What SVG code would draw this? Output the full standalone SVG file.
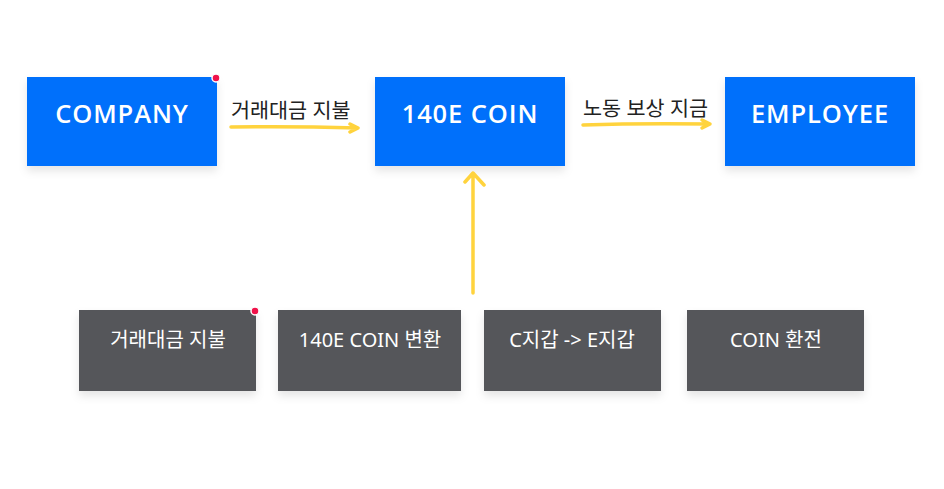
<svg xmlns="http://www.w3.org/2000/svg" width="944" height="489" viewBox="0 0 944 489">
<style>
.blue{fill:#0570fb}
.gray{fill:#54575a}
.big{font-family:"Open Sans","Noto Sans CJK KR",sans-serif;font-size:25.5px;font-weight:600;letter-spacing:0.9px;fill:#fff;text-anchor:middle}
.small{font-family:"Noto Sans","Noto Sans CJK KR",sans-serif;font-size:20px;fill:#fff;text-anchor:middle}
.lbl{font-family:"Noto Sans","Noto Sans CJK KR",sans-serif;font-size:20.7px;fill:#222}
.arr{fill:none;stroke:#ffd33d;stroke-width:3.5;stroke-linecap:round;stroke-linejoin:round}
.dot{fill:#f0124a;stroke:#fff;stroke-width:1.5}
</style>
<defs>
<filter id="sh" x="-10%" y="-10%" width="120%" height="140%">
<feDropShadow dx="0" dy="5" stdDeviation="4" flood-color="#000" flood-opacity="0.1"/>
</filter>
</defs>
<rect width="944" height="489" fill="#fff"/>
<g id="company"><rect class="blue" x="27" y="77" width="190" height="89" filter="url(#sh)"/><text class="big" x="122" y="123">COMPANY</text><circle class="dot" cx="216" cy="78" r="4"/></g>
<g id="coin"><rect class="blue" x="375" y="77" width="190" height="89" filter="url(#sh)"/><text class="big" x="470" y="123">140E COIN</text></g>
<g id="employee"><rect class="blue" x="725" y="77" width="190" height="89" filter="url(#sh)"/><text class="big" x="820" y="123">EMPLOYEE</text></g>
<g id="g1"><rect class="gray" x="79" y="310" width="177" height="81" filter="url(#sh)"/><text class="small" x="168" y="347">거래대금 지불</text><circle class="dot" cx="255" cy="311" r="4"/></g>
<g id="g2"><rect class="gray" x="278" y="310" width="183" height="81" filter="url(#sh)"/><text class="small" x="370" y="347">140E COIN 변환</text></g>
<g id="g3"><rect class="gray" x="484" y="310" width="177" height="81" filter="url(#sh)"/><text class="small" x="572" y="347">C지갑 -&gt; E지갑</text></g>
<g id="g4"><rect class="gray" x="687" y="310" width="177" height="81" filter="url(#sh)"/><text class="small" x="776" y="347">COIN 환전</text></g>
<g id="labels">
<text class="lbl" x="231" y="118">거래대금 지불</text>
<text class="lbl" x="583" y="116">노동 보상 지금</text>
</g>
<g id="connectors">
<path class="arr" d="M231 127 Q290 126 358 128 M350 124 L358 128 L350 132"/>
<path class="arr" d="M583 125 Q640 123 710 124 M702 120 L710 124 L702 128"/>
<path class="arr" d="M473 293 L473 173 M465 182 L473 173 L484 185"/>
</g>
</svg>
